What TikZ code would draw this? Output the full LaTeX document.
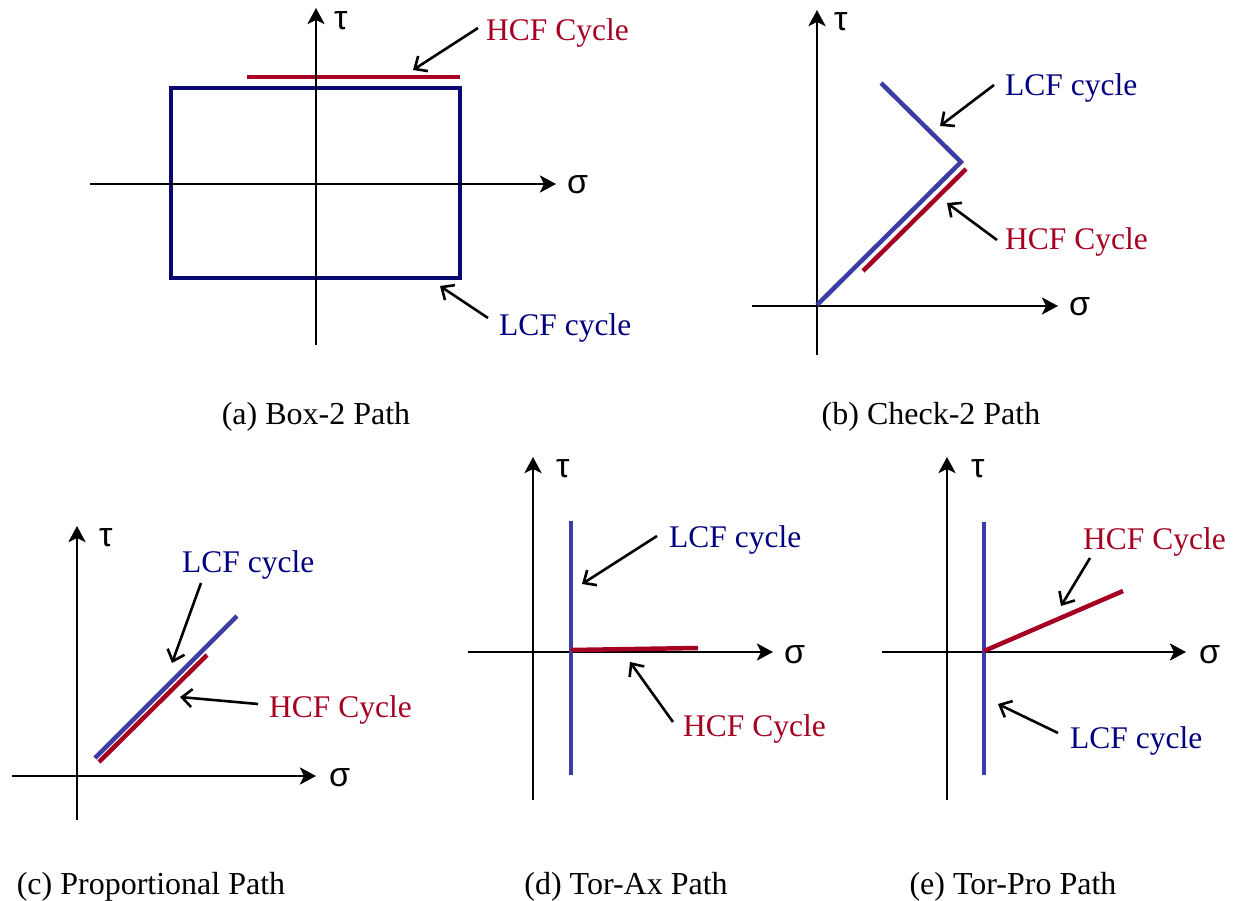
\documentclass[tikz,border=0pt]{standalone}
\usepackage{fontspec}
\setmainfont{Liberation Serif}
\newfontfamily\grkfont{Liberation Sans}
\usetikzlibrary{arrows.meta}
\definecolor{hcf}{RGB}{165,0,33}
\definecolor{lcftext}{RGB}{0,0,128}
\definecolor{lcfline}{RGB}{60,60,165}
\definecolor{boxnavy}{RGB}{8,8,112}
\begin{document}
\begin{tikzpicture}[x=1pt,y=-1pt,
  axis/.style={line width=2.8pt,-{Stealth[length=16pt,width=17pt,inset=4pt]}},
  pointer/.style={line width=2.6pt,-{Straight Barb[length=10pt,width=18pt,line width=2.6pt]}},
  hcfpath/.style={line width=4.5pt,hcf},
  lcfpath/.style={line width=4.5pt,lcfline},
  boxpath/.style={line width=4pt,boxnavy},
  hcflabel/.style={anchor=base west,inner sep=0pt,text=hcf,font=\fontsize{31.5}{36}\selectfont},
  lcflabel/.style={anchor=base west,inner sep=0pt,text=lcftext,font=\fontsize{31.5}{36}\selectfont},
  sym/.style={anchor=base west,inner sep=0pt,font=\grkfont\fontsize{34}{38}\selectfont},
  caption/.style={anchor=base,inner sep=0pt,font=\fontsize{32}{36}\selectfont}]
\useasboundingbox (0,0) rectangle (1234,901);

% ---------------- (a) Box-2 Path ----------------
\coordinate (aTb) at (316,345); \coordinate (aTt) at (316,8);
\coordinate (aSl) at (90,184);  \coordinate (aSr) at (556,184);
\draw[boxpath] (171,88) rectangle (460,278);
\draw[hcfpath] (247,77) -- (460,77);
\draw[axis] (aTb) -- (aTt);
\draw[axis] (aSl) -- (aSr);
\node[sym] (aTau) at (334,30) {τ};
\node[sym] (aSig) at (567,194) {σ};
\node[hcflabel] (aH) at (486,41) {HCF Cycle};
\node[lcflabel] (aL) at (499,335) {LCF cycle};
\coordinate (aHs) at (478,28); \coordinate (aHe) at (413,70);
\coordinate (aLs) at (488,318); \coordinate (aLe) at (440,286);
\draw[pointer] (aHs) -- (aHe);
\draw[pointer] (aLs) -- (aLe);
\node[caption] (capA) at (316,424) {(a) Box-2 Path};

% ---------------- (b) Check-2 Path ----------------
\coordinate (bTb) at (817,355); \coordinate (bTt) at (817,10);
\coordinate (bSl) at (752,306); \coordinate (bSr) at (1058,306);
\draw[axis] (bTb) -- (bTt);
\draw[axis] (bSl) -- (bSr);
\draw[lcfpath,line join=miter] (881,83) -- (961,162) -- (817,305);
\draw[hcfpath] (966,169) -- (863,271);
\node[sym] (bTau) at (834,31) {τ};
\node[sym] (bSig) at (1069,316) {σ};
\node[lcflabel] (bL) at (1005,96) {LCF cycle};
\node[hcflabel] (bH) at (1005,250) {HCF Cycle};
\coordinate (bLs) at (994,85); \coordinate (bLe) at (940,126);
\coordinate (bHs) at (997,240); \coordinate (bHe) at (947,203);
\draw[pointer] (bLs) -- (bLe);
\draw[pointer] (bHs) -- (bHe);
\node[caption] (capB) at (931,424) {(b) Check-2 Path};

% ---------------- (c) Proportional Path ----------------
\coordinate (cTb) at (77,820); \coordinate (cTt) at (77,526);
\coordinate (cSl) at (12,776); \coordinate (cSr) at (316,776);
\draw[axis] (cTb) -- (cTt);
\draw[axis] (cSl) -- (cSr);
\draw[lcfpath] (95,758) -- (237,616);
\draw[hcfpath] (99,762) -- (207,655);
\node[sym] (cTau) at (99,546) {τ};
\node[sym] (cSig) at (329,786) {σ};
\node[lcflabel] (cL) at (182,572) {LCF cycle};
\node[hcflabel] (cH) at (269,717) {HCF Cycle};
\coordinate (cLs) at (201,583); \coordinate (cLe) at (172,663);
\coordinate (cHs) at (258,704); \coordinate (cHe) at (180,697);
\draw[pointer] (cLs) -- (cLe);
\draw[pointer] (cHs) -- (cHe);
\node[caption] (capC) at (151,894) {(c) Proportional Path};

% ---------------- (d) Tor-Ax Path ----------------
\coordinate (dTb) at (533,800); \coordinate (dTt) at (533,457);
\coordinate (dSl) at (468,652); \coordinate (dSr) at (773,652);
\draw[axis] (dTb) -- (dTt);
\draw[axis] (dSl) -- (dSr);
\draw[lcfpath] (571,521) -- (571,775);
\draw[hcfpath] (571,650) -- (698,648);
\node[sym] (dTau) at (556,477) {τ};
\node[sym] (dSig) at (784,663) {σ};
\node[lcflabel] (dL) at (669,547) {LCF cycle};
\node[hcflabel] (dH) at (683,736) {HCF Cycle};
\coordinate (dLs) at (657,536); \coordinate (dLe) at (582,584);
\coordinate (dHs) at (673,722); \coordinate (dHe) at (630,662);
\draw[pointer] (dLs) -- (dLe);
\draw[pointer] (dHs) -- (dHe);
\node[caption] (capD) at (626,894) {(d) Tor-Ax Path};

% ---------------- (e) Tor-Pro Path ----------------
\coordinate (eTb) at (947,800); \coordinate (eTt) at (947,457);
\coordinate (eSl) at (882,652); \coordinate (eSr) at (1186,652);
\draw[axis] (eTb) -- (eTt);
\draw[axis] (eSl) -- (eSr);
\draw[lcfpath] (984,522) -- (984,775);
\draw[hcfpath] (984,651) -- (1123,591);
\node[sym] (eTau) at (971,477) {τ};
\node[sym] (eSig) at (1199,663) {σ};
\node[hcflabel] (eH) at (1083,549) {HCF Cycle};
\node[lcflabel] (eL) at (1070,748) {LCF cycle};
\coordinate (eHs) at (1090,558); \coordinate (eHe) at (1061,606);
\coordinate (eLs) at (1058,733); \coordinate (eLe) at (998,704);
\draw[pointer] (eHs) -- (eHe);
\draw[pointer] (eLs) -- (eLe);
\node[caption] (capE) at (1013,894) {(e) Tor-Pro Path};
\end{tikzpicture}
\end{document}
